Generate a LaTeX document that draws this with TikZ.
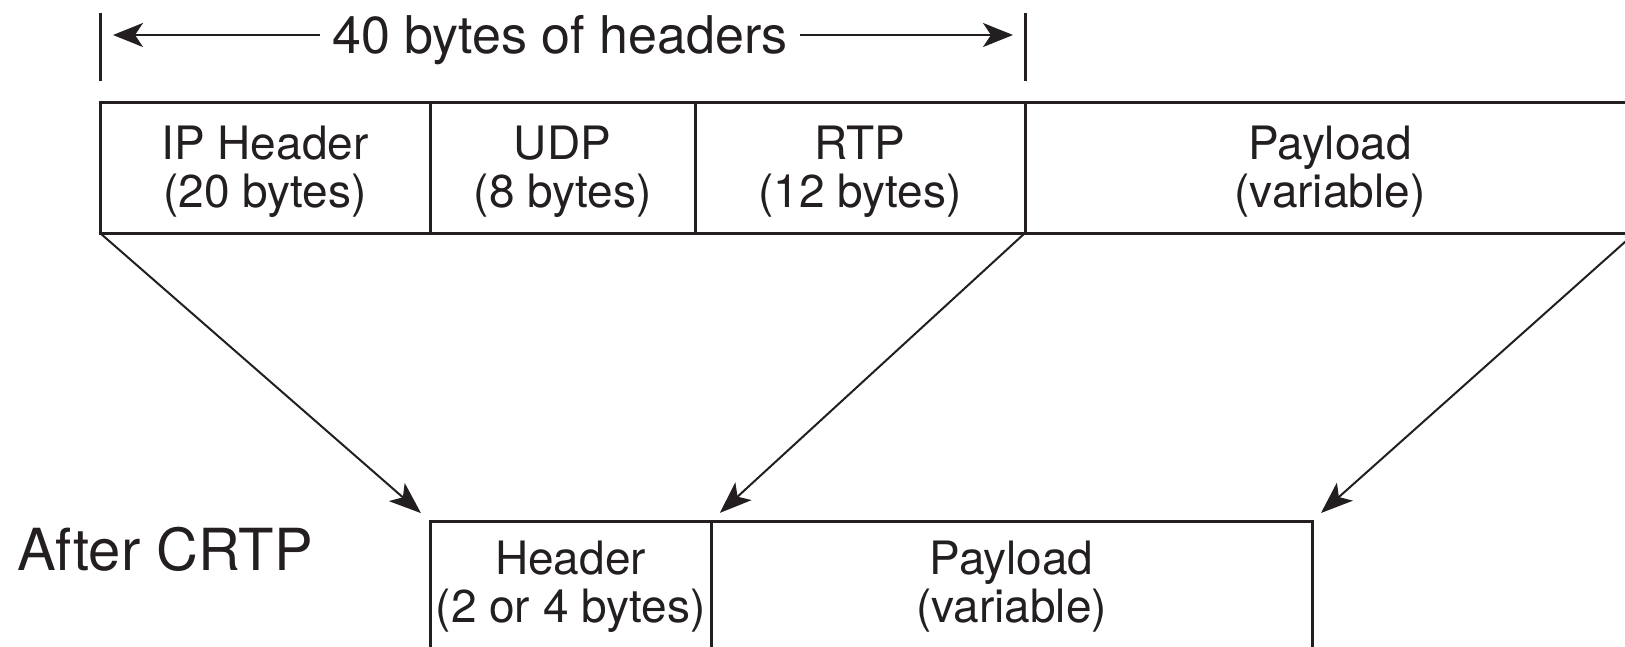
\documentclass[tikz,border=0pt]{standalone}
\usepackage{fontspec}
\setmainfont{TeX Gyre Heros}
\usetikzlibrary{arrows.meta}

\definecolor{ink}{HTML}{231F20}

\tikzset{
  cell/.style={draw=ink, line width=3pt, outer sep=0pt, inner sep=0pt,
    anchor=north west, minimum height=131pt},
  celltext/.style={align=center, text=ink, inner sep=0pt,
    font=\fontsize{46}{48}\selectfont},
  tick/.style={draw=ink, line width=3pt},
  dimarrow/.style={draw=ink, line width=2.4pt,
    -{Stealth[length=30pt, width=24pt, inset=8pt]}},
  maparrow/.style={draw=ink, line width=2pt, shorten >=12pt,
    -{Stealth[length=32pt, width=24pt, inset=8pt]}},
  label/.style={text=ink, inner sep=0pt}
}

\begin{document}
\begin{tikzpicture}[x=1pt, y=-1pt]
  \useasboundingbox (0,0) rectangle (1625,646);
  \clip (0,0) rectangle (1625,646);

  % full packet: headers and payload
  \node[cell, minimum width=330pt] (ip)  at (100,102)  {};
  \node[cell, minimum width=265pt] (udp) at (430,102)  {};
  \node[cell, minimum width=330pt] (rtp) at (695,102)  {};
  \node[cell, minimum width=610pt] (pay) at (1025,102) {};
  \node[celltext, yshift=-4pt] (ip-t)  at (ip.center)  {IP Header\\(20 bytes)};
  \node[celltext, yshift=-4pt] (udp-t) at (udp.center) {UDP\\(8 bytes)};
  \node[celltext, yshift=-4pt] (rtp-t) at (rtp.center) {RTP\\(12 bytes)};
  \node[celltext, yshift=-4pt] (pay-t) at (pay.center) {Payload\\(variable)};

  % compressed packet
  \node[cell, minimum width=281pt] (hdr)  at (430,521) {};
  \node[cell, minimum width=601pt] (cpay) at (711,521) {};
  \node[celltext] (hdr-t)  at (hdr.center)  {Header\\(2 or 4 bytes)};
  \node[celltext] (cpay-t) at (cpay.center) {Payload\\(variable)};

  \node[label, anchor=base west, font=\fontsize{58}{60}\selectfont] (after) at (17,570) {After CRTP};

  % span of the 40 header bytes
  \coordinate (tlA) at (100,13);
  \coordinate (tlB) at (100,81);
  \coordinate (trA) at (1025,13);
  \coordinate (trB) at (1025,81);
  \draw[tick] (tlA) -- (tlB);
  \draw[tick] (trA) -- (trB);
  \coordinate (ltip) at (113,35);
  \coordinate (rtip) at (1013,35);
  \node[label, anchor=base, inner xsep=12pt, font=\fontsize{52}{54}\selectfont] (span) at (560,53) {40 bytes of headers};
  \draw[dimarrow] (span.west |- ltip) -- (ltip);
  \draw[dimarrow] (span.east |- rtip) -- (rtip);

  % mapping of the header and payload onto the compressed packet
  \draw[maparrow] (ip.south west)  -- (hdr.north west);
  \draw[maparrow] (rtp.south east) -- (cpay.north west);
  \draw[maparrow] (pay.south east) -- (cpay.north east);
\end{tikzpicture}
\end{document}
